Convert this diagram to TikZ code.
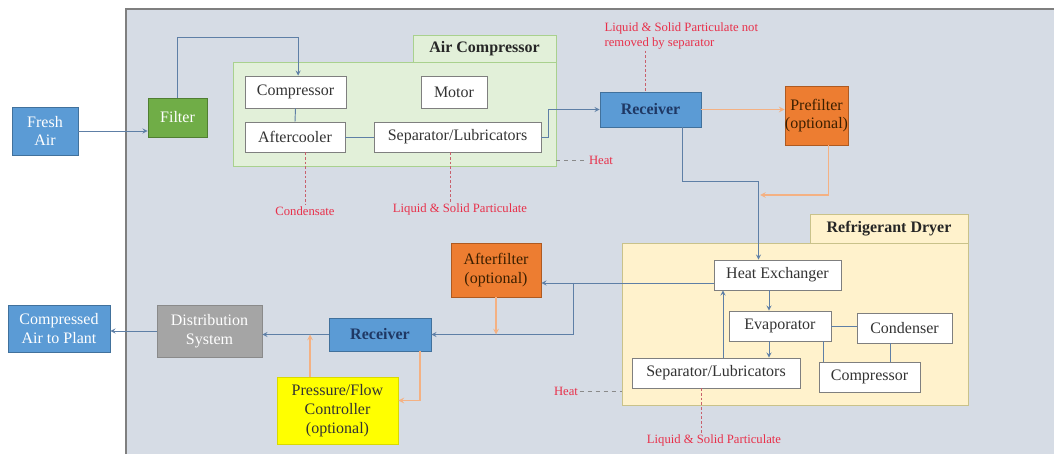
\documentclass[tikz,border=0pt]{standalone}
\usepackage{fontspec}
\setmainfont{Liberation Serif}
\usetikzlibrary{calc}
\definecolor{panelbg}{HTML}{D6DCE5}
\definecolor{panelline}{HTML}{7F7F7F}
\definecolor{officeblue}{HTML}{5B9BD5}
\definecolor{blueline}{HTML}{41719C}
\definecolor{navytext}{HTML}{1F3864}
\definecolor{filtergreen}{HTML}{70AD47}
\definecolor{greenline}{HTML}{507E32}
\definecolor{grpgreenbg}{HTML}{E2F0D9}
\definecolor{grpgreenline}{HTML}{A9D18E}
\definecolor{grpyellowbg}{HTML}{FFF2CC}
\definecolor{grpyellowline}{HTML}{C9C28A}
\definecolor{officeorange}{HTML}{ED7D31}
\definecolor{orangeline}{HTML}{AE5A21}
\definecolor{browntext}{HTML}{3B1F00}
\definecolor{officegray}{HTML}{A5A5A5}
\definecolor{grayline}{HTML}{8A8A8A}
\definecolor{ctrlyellow}{HTML}{FFFF00}
\definecolor{ctrlline}{HTML}{D9D900}
\definecolor{boxline}{HTML}{7F7F7F}
\definecolor{notered}{HTML}{E8304A}
\definecolor{flowline}{HTML}{5E7FA6}
\definecolor{oflowline}{HTML}{F4B183}
\definecolor{dotline}{HTML}{C8606C}
\tikzset{
	basebox/.style={inner sep=0pt, line width=0.6pt, align=center, font=\fontsize{12}{14}\selectfont},
	whitebox/.style={basebox, draw=boxline, fill=white, text=black!80},
	bluebox/.style={basebox, draw=blueline, fill=officeblue, text=white},
	recvbox/.style={basebox, draw=blueline, fill=officeblue, text=navytext, font=\bfseries\fontsize{12}{14}\selectfont},
	greenbox/.style={basebox, draw=greenline, fill=filtergreen, text=white},
	orangebox/.style={basebox, draw=orangeline, fill=officeorange, text=browntext},
	graybox/.style={basebox, draw=grayline, fill=officegray, text=white},
	yellowbox/.style={basebox, draw=ctrlline, fill=ctrlyellow, text=black!80},
	grpgreen/.style={basebox, draw=grpgreenline, fill=grpgreenbg},
	grpyellow/.style={basebox, draw=grpyellowline, fill=grpyellowbg},
	grptitle/.style={font=\bfseries\fontsize{12}{14}\selectfont, text=black!85},
	note/.style={text=notered, inner sep=1pt, font=\fontsize{9.5}{11}\selectfont},
	flow/.style={draw=flowline, line width=0.7pt},
	flowarrow/.style={flow, -stealth},
	oflow/.style={draw=oflowline, line width=0.9pt, -stealth},
	dotted line/.style={draw=dotline, line width=0.7pt, dash pattern=on 2pt off 1.5pt},
	heat line/.style={draw=grayline, line width=0.7pt, dashed}
}
\begin{document}
\begin{tikzpicture}[x=0.75pt,y=-0.75pt]
	\useasboundingbox (0,0) rectangle (1054,456);
	\fill[panelbg] (126,9) rectangle (1054,454);
	\draw[panelline, line width=1.5pt] (126,454) -- (126,9) -- (1054,9);

	\node[grpgreen, minimum width=242.25pt, minimum height=78pt] (acgrp) at (394.5,114) {};
	\node[grpgreen, grptitle, minimum width=107.25pt, minimum height=20.25pt] (actitle) at (484.5,48.5) {Air Compressor};
	\node[grpyellow, minimum width=259.5pt, minimum height=121.5pt] (rdgrp) at (795,324) {};
	\node[grpyellow, grptitle, minimum width=118.5pt, minimum height=21.75pt] (rdtitle) at (889,228.5) {Refrigerant Dryer};

	\node[bluebox, minimum width=49.5pt, minimum height=36pt] (fresh) at (45,131) {Fresh\\Air};
	\node[greenbox, minimum width=44.25pt, minimum height=29.25pt] (filter) at (177.5,117.5) {Filter};
	\node[whitebox, minimum width=75.75pt, minimum height=24pt] (comp) at (295.5,92) {Compressor};
	\node[whitebox, minimum width=49.5pt, minimum height=24pt] (motor) at (454,92) {Motor};
	\node[whitebox, minimum width=75pt, minimum height=22.5pt] (aftc) at (295,137) {Aftercooler};
	\node[whitebox, minimum width=125.25pt, minimum height=22.5pt] (sepa) at (457.5,137) {Separator/Lubricators};
	\node[recvbox, minimum width=75.75pt, minimum height=26.25pt] (recva) at (650.5,109.5) {Receiver};
	\node[orangebox, minimum width=44.25pt, minimum height=44.25pt] (pref) at (816.5,115.5) {Prefilter\\(optional)};

	\node[whitebox, minimum width=95.25pt, minimum height=22.5pt] (hex) at (777.5,275) {Heat Exchanger};
	\node[whitebox, minimum width=76.5pt, minimum height=22.5pt] (evap) at (780,326) {Evaporator};
	\node[whitebox, minimum width=71.25pt, minimum height=22.5pt] (cond) at (904.5,328) {Condenser};
	\node[whitebox, minimum width=126pt, minimum height=22.5pt] (sepb) at (716,373) {Separator/Lubricators};
	\node[whitebox, minimum width=75.75pt, minimum height=22.5pt] (compb) at (869.5,377) {Compressor};

	\node[orangebox, minimum width=67.5pt, minimum height=40.5pt] (aftf) at (496,270) {Afterfilter\\(optional)};
	\node[recvbox, minimum width=76.5pt, minimum height=24.75pt] (recvb) at (380,334.5) {Receiver};
	\node[graybox, minimum width=78.75pt, minimum height=39pt] (dist) at (209.5,331) {Distribution\\System};
	\node[yellowbox, minimum width=90.75pt, minimum height=50.25pt] (ctrl) at (337.5,410.5) {Pressure/Flow\\Controller\\(optional)};
	\node[bluebox, minimum width=76.5pt, minimum height=35.25pt] (cair) at (59,328.5) {Compressed\\Air to Plant};

	\node[note, anchor=west, align=left] (nrem) at (603,36) {Liquid \& Solid Particulate not\\removed by separator};
	\node[note] (heata) at (601,160) {Heat};
	\node[note] (condn) at (305,211) {Condensate};
	\node[note] (partA) at (460,209) {Liquid \& Solid Particulate};
	\node[note] (heatb) at (566,391) {Heat};
	\node[note] (partB) at (714,440) {Liquid \& Solid Particulate};

	\draw[flowarrow] (fresh.east) -- (fresh.east -| filter.west);
	\draw[flowarrow] (filter.north) -- ++(0,-60) -| ([xshift=2pt]comp.north);
	\draw[flow] (comp.south) -- (aftc.north);
	\draw[flow] (aftc.east) -- (sepa.west);
	\draw[flowarrow] (sepa.east) -- ++(7,0) |- (recva.west);
	\draw[oflow] (recva.east) -- (recva.east -| pref.west);
	\draw[flowarrow] ([xshift=24pt]recva.south) -- ++(0,54) -| ([xshift=-14.25pt]hex.north);
	\coordinate (prefin) at (760,195);
	\draw[oflow] ([xshift=9pt]pref.south) |- (prefin);

	\draw[flowarrow] ([xshift=-6.4pt]hex.south) -- ([xshift=-6.4pt]hex.south |- evap.north);
	\draw[flowarrow] ([xshift=-8.25pt]evap.south) -- ([xshift=-8.25pt]evap.south |- sepb.north);
	\draw[flowarrow] ([xshift=5.25pt]sepb.north) -- ([xshift=5.25pt]sepb.north |- hex.south);
	\draw[flow] (evap.east) -- (evap.east -| cond.west);
	\draw[flow] ([xshift=-10.9pt]cond.south) -- ([xshift=-10.9pt]cond.south |- compb.north);
	\draw[flow] ([xshift=32.25pt]evap.south) -- ([xshift=32.25pt]evap.south |- compb.north);

	\draw[flowarrow] ([yshift=-6pt]hex.west) -- ([yshift=-6pt]hex.west -| aftf.east);
	\coordinate (bypass) at (573,283);
	\draw[flowarrow] (bypass) |- (recvb.east);
	\draw[oflow] (aftf.south) -- (aftf.south |- recvb.east);
	\draw[flowarrow] (recvb.west) -- (recvb.west -| dist.east);
	\draw[oflow] ([xshift=30pt]recvb.south) |- ([yshift=7.5pt]ctrl.east);
	\draw[oflow] ([xshift=-20.6pt]ctrl.north) -- ([xshift=-20.6pt]ctrl.north |- recvb.west);
	\draw[flowarrow] (dist.west) -- (dist.west -| cair.east);

	\draw[dotted line] ([xshift=7.5pt]aftc.south) -- (condn.north);
	\draw[dotted line] ([xshift=-5.6pt]sepa.south) -- ([xshift=-5.6pt]sepa.south |- partA.north);
	\draw[dotted line] (nrem.south west) ++(42,0) coordinate (nremfoot) -- (nremfoot |- recva.north);
	\draw[dotted line] ([xshift=-11pt]sepb.south) -- ([xshift=-11pt]sepb.south |- partB.north);
	\draw[heat line] (acgrp.east |- heata.west) -- (heata.west);
	\draw[heat line] (heatb.east) -- (heatb.east -| rdgrp.west);
\end{tikzpicture}
\end{document}
